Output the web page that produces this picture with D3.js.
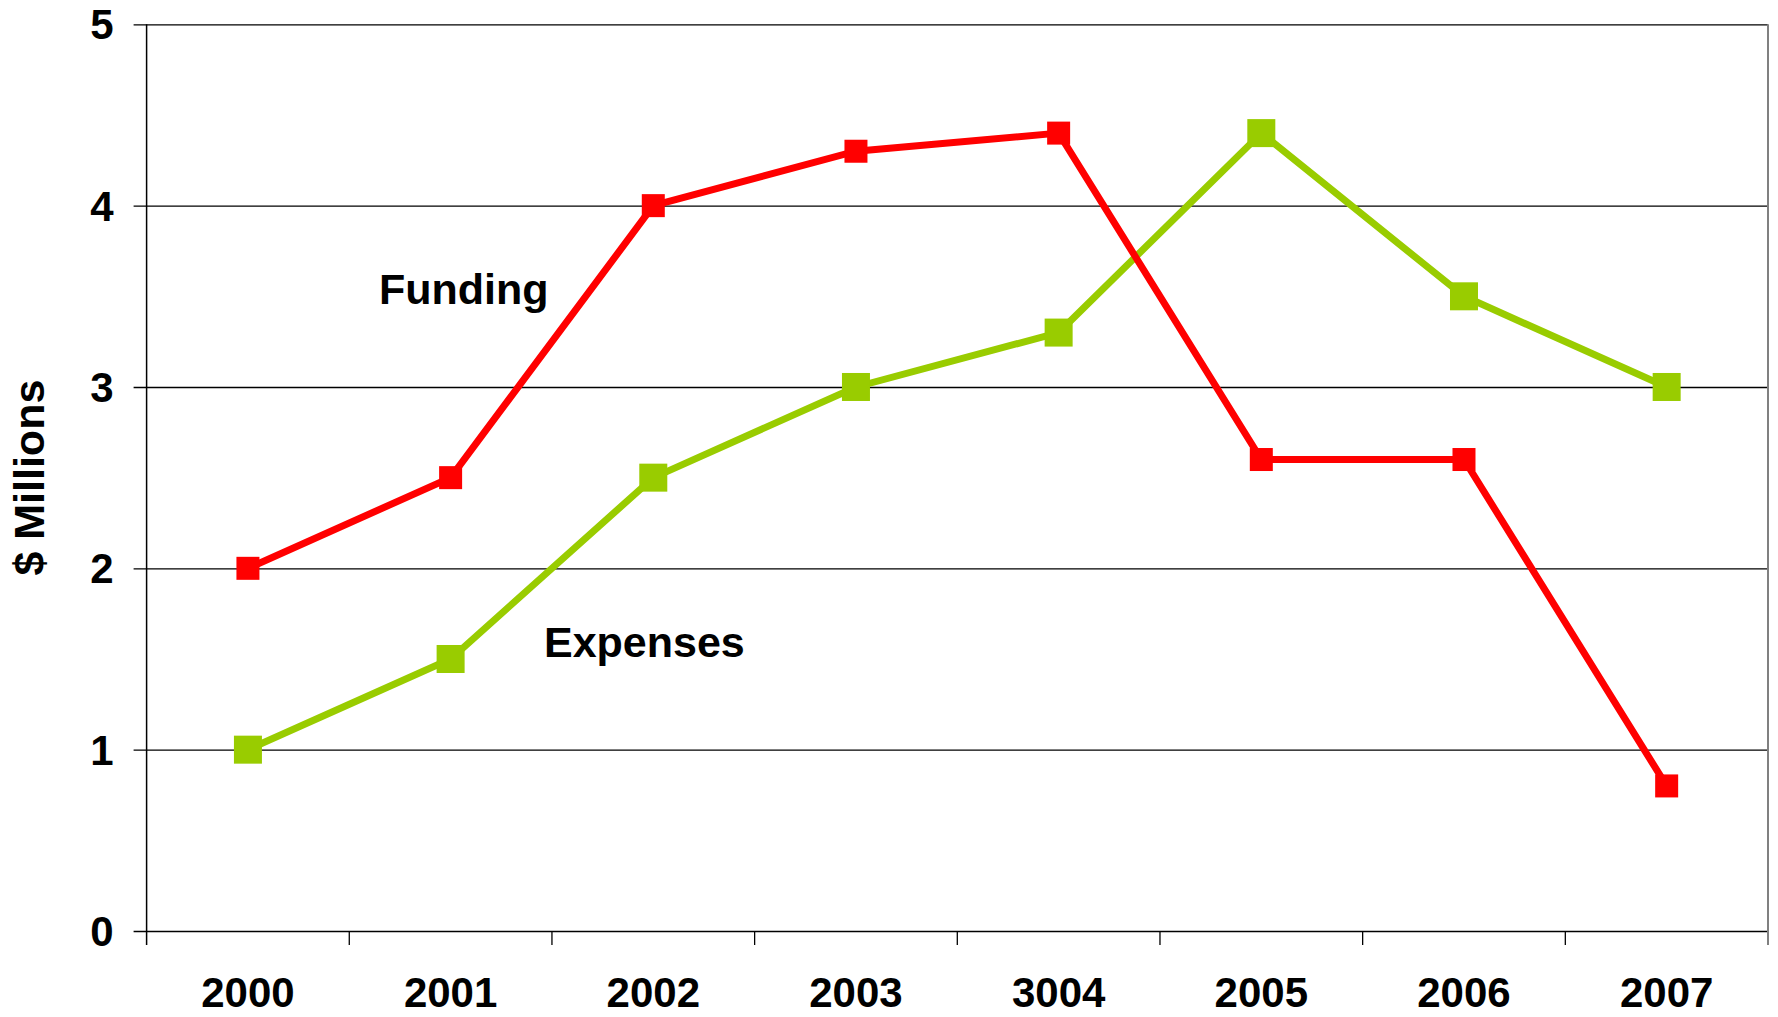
<!DOCTYPE html>
<html>
<head>
<meta charset="utf-8">
<script src="https://cdn.jsdelivr.net/npm/d3@7"></script>
<style>
  body { margin: 0; background: #fff; }
  text { font-family: "Liberation Sans", Arial, sans-serif; font-weight: bold; }
</style>
</head>
<body>
<script>
// data (the "3004" label is as in the original)
var years = ["2000", "2001", "2002", "2003", "3004", "2005", "2006", "2007"];
var funding = [2.0, 2.5, 4.0, 4.3, 4.4, 2.6, 2.6, 0.8];
var expenses = [1.0, 1.5, 2.5, 3.0, 3.3, 4.4, 3.5, 3.0];
var yTicks = [0, 1, 2, 3, 4, 5];

var margin = {top: 24.3, right: 10, bottom: 86, left: 146.6},
    width = 1778 - margin.left - margin.right,
    height = 1017 - margin.top - margin.bottom;

var x = d3.scaleBand().domain(years).range([0, width]);
var y = d3.scaleLinear().domain([0, 5]).range([height, 0]);

var svg = d3.select("body").append("svg")
    .attr("width", 1778)
    .attr("height", 1017)
  .append("g")
    .attr("transform", "translate(" + margin.left + "," + margin.top + ")");

// horizontal gridlines + left ticks
svg.append("g")
    .call(d3.axisLeft(y).tickValues(yTicks).tickSize(-width - 13).tickFormat(""))
    .attr("transform", "translate(" + (width) + ",0)")
    .call(function(g) {
      g.select(".domain").remove();
      g.selectAll("line").attr("stroke", "#000").attr("stroke-width", 1.3)
        .attr("x1", 0).attr("x2", -width - 13);
    });

// y axis labels
svg.append("g")
    .selectAll("text")
    .data(yTicks)
  .enter().append("text")
    .attr("x", -33)
    .attr("y", function(d) { return y(d); })
    .attr("dy", "0.36em")
    .attr("text-anchor", "end")
    .style("font-size", "42px")
    .text(function(d) { return d; });

// left axis line
svg.append("line")
    .attr("x1", 0).attr("x2", 0)
    .attr("y1", 0).attr("y2", height + 14)
    .attr("stroke", "#000").attr("stroke-width", 1.5);

// right border
svg.append("line")
    .attr("x1", width).attr("x2", width)
    .attr("y1", 0).attr("y2", height + 14)
    .attr("stroke", "#808080").attr("stroke-width", 2);

// x ticks at band boundaries
var bounds = years.map(function(d) { return x(d); }).concat([width]);
svg.append("g")
    .selectAll("line")
    .data(bounds.slice(1, -1))
  .enter().append("line")
    .attr("x1", function(d) { return d; })
    .attr("x2", function(d) { return d; })
    .attr("y1", height).attr("y2", height + 14)
    .attr("stroke", "#000").attr("stroke-width", 1.3);

// x labels
svg.append("g")
    .selectAll("text")
    .data(years)
  .enter().append("text")
    .attr("x", function(d) { return x(d) + x.bandwidth() / 2; })
    .attr("y", height + 76)
    .attr("text-anchor", "middle")
    .style("font-size", "42px")
    .text(function(d) { return d; });

// y title
svg.append("text")
    .attr("transform", "translate(" + (-103) + "," + (height / 2) + ") rotate(-90)")
    .attr("text-anchor", "middle")
    .style("font-size", "43px")
    .text("$ Millions");

function drawSeries(values, color, size) {
  var line = d3.line()
      .x(function(d, i) { return x(years[i]) + x.bandwidth() / 2; })
      .y(function(d) { return y(d); });
  svg.append("path")
      .datum(values)
      .attr("fill", "none")
      .attr("stroke", color)
      .attr("stroke-width", 7)
      .attr("stroke-linejoin", "miter")
      .attr("d", line);
  svg.append("g")
      .selectAll("rect")
      .data(values)
    .enter().append("rect")
      .attr("x", function(d, i) { return x(years[i]) + x.bandwidth() / 2 - size / 2; })
      .attr("y", function(d) { return y(d) - size / 2; })
      .attr("width", size)
      .attr("height", size)
      .attr("fill", color);
}

drawSeries(expenses, "#99cc00", 28);
drawSeries(funding, "#ff0000", 23);

// series labels
svg.append("text")
    .attr("x", 379 - margin.left)
    .attr("y", 304 - margin.top)
    .style("font-size", "43px")
    .text("Funding");
svg.append("text")
    .attr("x", 544 - margin.left)
    .attr("y", 657 - margin.top)
    .style("font-size", "43px")
    .text("Expenses");
</script>
</body>
</html>
